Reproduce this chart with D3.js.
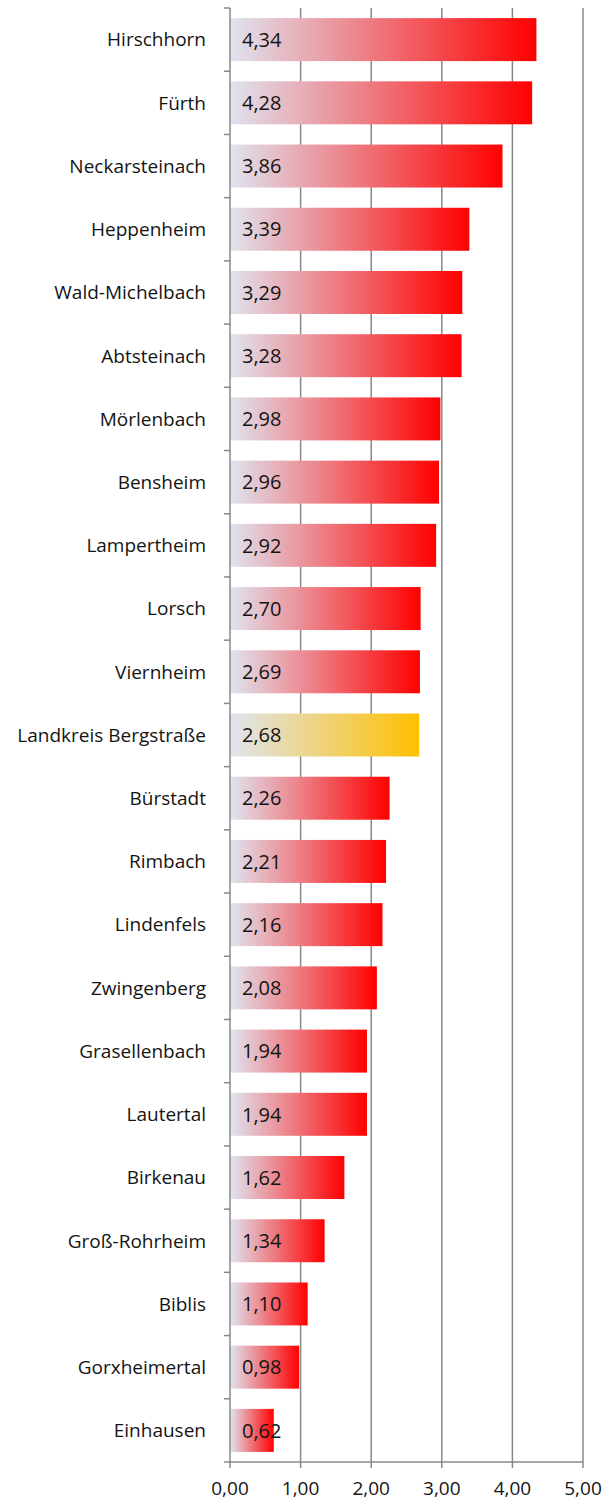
<!DOCTYPE html>
<html>
<head>
<meta charset="utf-8">
<script src="https://cdn.jsdelivr.net/npm/d3@7"></script>
<style>
  body { margin: 0; background: #fff; }
  text { font-family: "Open Sans", sans-serif; fill: #141414; }
</style>
</head>
<body>
<script>
var categories = ["Hirschhorn", "Fürth", "Neckarsteinach", "Heppenheim", "Wald-Michelbach",
  "Abtsteinach", "Mörlenbach", "Bensheim", "Lampertheim", "Lorsch", "Viernheim",
  "Landkreis Bergstraße", "Bürstadt", "Rimbach", "Lindenfels", "Zwingenberg",
  "Grasellenbach", "Lautertal", "Birkenau", "Groß-Rohrheim", "Biblis", "Gorxheimertal", "Einhausen"];
var values = [4.34, 4.28, 3.86, 3.39, 3.29, 3.28, 2.98, 2.96, 2.92, 2.70, 2.69,
  2.68, 2.26, 2.21, 2.16, 2.08, 1.94, 1.94, 1.62, 1.34, 1.10, 0.98, 0.62];
var highlight = "Landkreis Bergstraße";
var xTicks = [0, 1, 2, 3, 4, 5];

var width = 606, height = 1501;
var margin = { top: 8, left: 230, right: 23, bottom: 39 };

var svg = d3.select("body").append("svg")
  .attr("width", width)
  .attr("height", height);

var defs = svg.append("defs");
function grad(id, endColor) {
  var g = defs.append("linearGradient").attr("id", id)
    .attr("x1", "0%").attr("x2", "100%").attr("y1", "0%").attr("y2", "0%");
  g.append("stop").attr("offset", "0%").attr("stop-color", "#dfe4f0");
  g.append("stop").attr("offset", "100%").attr("stop-color", endColor);
}
grad("gRed", "#ff0000");
grad("gYellow", "#ffc000");

var x = d3.scaleLinear().domain([0, 5]).range([margin.left, width - margin.right]);
var y = d3.scaleBand().domain(categories)
  .range([margin.top, height - margin.bottom])
  .paddingInner(0.32).paddingOuter(0.16);

var plotBottom = height - margin.bottom;

// gridlines
svg.selectAll(".grid").data(xTicks.slice(1)).enter()
  .append("line")
  .attr("x1", function(d) { return x(d); })
  .attr("x2", function(d) { return x(d); })
  .attr("y1", margin.top)
  .attr("y2", plotBottom + 6)
  .attr("stroke", "#888")
  .attr("stroke-width", 1.5);

// bars
svg.selectAll(".bar").data(categories).enter()
  .append("rect")
  .attr("x", x(0))
  .attr("y", function(d) { return y(d); })
  .attr("width", function(d, i) { return x(values[i]) - x(0); })
  .attr("height", y.bandwidth())
  .attr("fill", function(d) { return d === highlight ? "url(#gYellow)" : "url(#gRed)"; });

// value labels
svg.selectAll(".val").data(categories).enter()
  .append("text")
  .attr("x", x(0) + 12)
  .attr("y", function(d) { return y(d) + y.bandwidth() / 2; })
  .attr("dy", "0.36em")
  .style("font-size", "20px")
  .text(function(d, i) { return values[i].toFixed(2).replace(".", ","); });

// y axis
var yStep = y.step();
svg.append("line")
  .attr("x1", x(0)).attr("x2", x(0))
  .attr("y1", margin.top).attr("y2", plotBottom)
  .attr("stroke", "#888").attr("stroke-width", 1.5);
var bounds = d3.range(categories.length + 1).map(function(i) { return margin.top + i * yStep; });
svg.selectAll(".ytick").data(bounds).enter()
  .append("line")
  .attr("x1", x(0) - 6).attr("x2", x(0))
  .attr("y1", function(d) { return d; }).attr("y2", function(d) { return d; })
  .attr("stroke", "#888").attr("stroke-width", 1.5);

svg.selectAll(".cat").data(categories).enter()
  .append("text")
  .attr("x", 206)
  .attr("y", function(d) { return y(d) + y.bandwidth() / 2; })
  .attr("dy", "0.36em")
  .attr("text-anchor", "end")
  .style("font-size", "19px")
  .text(function(d) { return d; });

// x axis
svg.append("line")
  .attr("x1", x(0)).attr("x2", x(5))
  .attr("y1", plotBottom).attr("y2", plotBottom)
  .attr("stroke", "#888").attr("stroke-width", 1.5);
svg.append("line")
  .attr("x1", x(0)).attr("x2", x(0))
  .attr("y1", plotBottom).attr("y2", plotBottom + 6)
  .attr("stroke", "#888").attr("stroke-width", 1.5);
svg.selectAll(".xl").data(xTicks).enter()
  .append("text")
  .attr("x", function(d) { return x(d); })
  .attr("y", plotBottom + 33)
  .attr("text-anchor", "middle")
  .style("font-size", "19px")
  .text(function(d) { return d.toFixed(2).replace(".", ","); });
</script>
</body>
</html>
